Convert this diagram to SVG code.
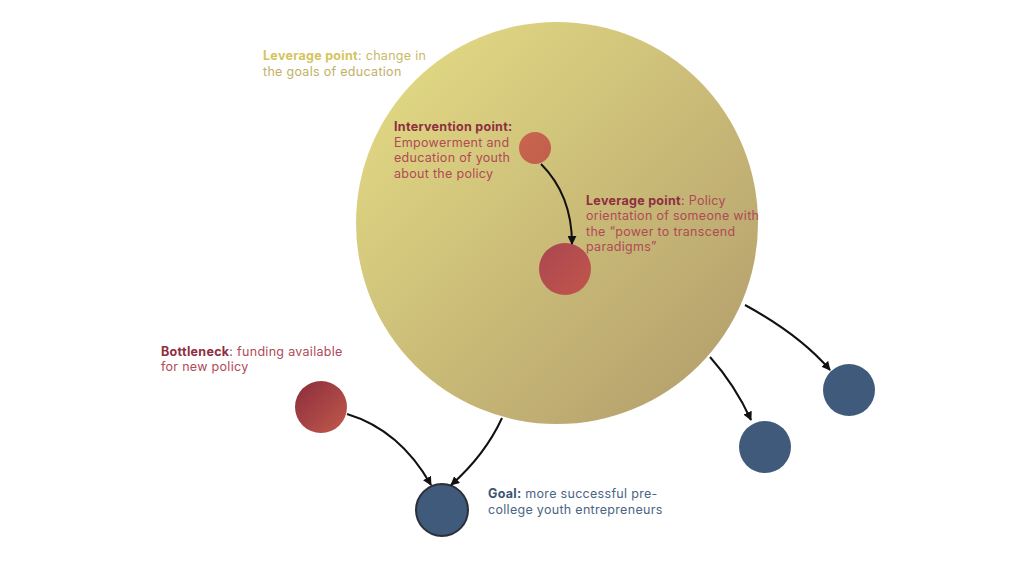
<svg xmlns="http://www.w3.org/2000/svg" width="1024" height="573" viewBox="0 0 1024 573">
<defs>
<linearGradient id="big" x1="0" y1="0" x2="1" y2="1"><stop offset="0" stop-color="#e6df86"/><stop offset="1" stop-color="#b09a6a"/></linearGradient>
<linearGradient id="red" x1="0" y1="0" x2="1" y2="1"><stop offset="0" stop-color="#8a2c3c"/><stop offset="1" stop-color="#c25a4c"/></linearGradient>
<linearGradient id="red2" x1="0" y1="0" x2="1" y2="1"><stop offset="0" stop-color="#a94650"/><stop offset="1" stop-color="#c3564c"/></linearGradient>
<linearGradient id="org" x1="0" y1="0" x2="1" y2="1"><stop offset="0" stop-color="#c8664f"/><stop offset="1" stop-color="#c05e4c"/></linearGradient>
<marker id="ah" viewBox="0 0 10 10" refX="9" refY="5" markerWidth="9" markerHeight="9" markerUnits="userSpaceOnUse" orient="auto"><path d="M0,0 L10,5 L0,10 z" fill="#111"/></marker>
</defs>
<style>
text{font-family:Inter,"Liberation Sans",sans-serif;font-size:12.5px;letter-spacing:0.3px}
.b{font-weight:bold}
.c{stroke:#111;stroke-width:2;fill:none;marker-end:url(#ah)}
.blue{fill:#3f5a7a}
</style>
<rect width="1024" height="573" fill="#fff"/>
<g id="big-node"><circle cx="557" cy="223" r="201" fill="url(#big)"/>
<text x="263" y="60" fill="#c9b865"><tspan class="b" fill="#d4c45e">Leverage point</tspan>: change in</text>
<text x="263" y="76" fill="#c2b066">the goals of education</text></g>
<g id="intervention"><circle cx="535" cy="148" r="16" fill="url(#org)"/>
<text x="394" y="131" fill="#b04a55"><tspan class="b" fill="#8e2e40">Intervention point:</tspan></text>
<text x="394" y="147" fill="#b04a55">Empowerment and</text>
<text x="394" y="162" fill="#b04a55">education of youth</text>
<text x="394" y="178" fill="#b04a55">about the policy</text></g>
<g id="leverage"><circle cx="565" cy="269" r="26" fill="url(#red2)"/>
<text x="586" y="205" fill="#b04a55"><tspan class="b" fill="#8e2e40">Leverage point</tspan>: Policy</text>
<text x="586" y="220" fill="#b04a55">orientation of someone with</text>
<text x="586" y="236" fill="#b04a55">the “power to transcend</text>
<text x="586" y="251" fill="#b04a55">paradigms”</text></g>
<g id="bottleneck"><circle cx="321" cy="407" r="26" fill="url(#red)"/>
<text x="161" y="356" fill="#b04a55"><tspan class="b" fill="#8e2e40">Bottleneck</tspan>: funding available</text>
<text x="161" y="371" fill="#b04a55">for new policy</text></g>
<g id="goal"><circle cx="442" cy="510" r="26" class="blue" stroke="#2a2f38" stroke-width="2"/>
<text x="488" y="498" fill="#4a6584"><tspan class="b" fill="#3a5676">Goal:</tspan> more successful pre-</text>
<text x="488" y="514" fill="#4a6584">college youth entrepreneurs</text></g>
<g id="out1"><circle cx="849" cy="390" r="26" class="blue"/></g>
<g id="out2"><circle cx="765" cy="447" r="26" class="blue"/></g>
<g id="connectors">
<path class="c" d="M541,164 Q572,195 572,244"/>
<path class="c" d="M347,414 Q400,430 431,485"/>
<path class="c" d="M502,418 Q485,455 451,485"/>
<path class="c" d="M745,305 Q800,335 830,370"/>
<path class="c" d="M710,357 Q735,385 751,420"/>
</g>
</svg>
